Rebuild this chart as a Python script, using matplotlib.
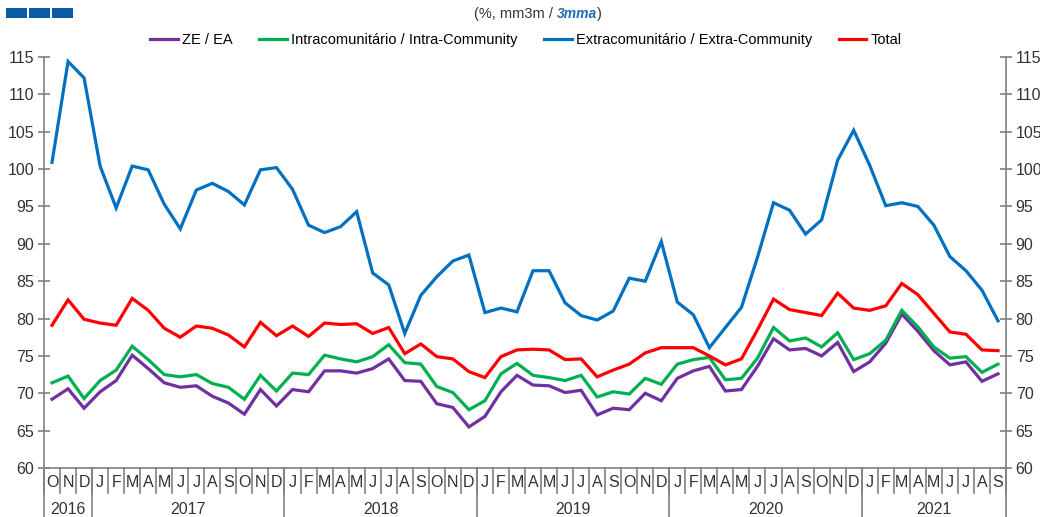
import matplotlib
matplotlib.use('Agg')
import matplotlib.pyplot as plt
from matplotlib.patches import Rectangle
from matplotlib.offsetbox import TextArea, HPacker, AnchoredOffsetbox

plt.rcParams['font.family'] = ['Liberation Sans', 'DejaVu Sans']

# Oct 2016 .. Sep 2021, 3-month moving averages
months = ['O', 'N', 'D'] + ['J', 'F', 'M', 'A', 'M', 'J', 'J', 'A', 'S', 'O', 'N', 'D'] * 4 + \
         ['J', 'F', 'M', 'A', 'M', 'J', 'J', 'A', 'S']
years = ['2016', '2017', '2018', '2019', '2020', '2021']
year_counts = [3, 12, 12, 12, 12, 9]

ze_ea = [69.2, 70.6, 68.0, 70.2, 71.7, 75.1, 73.3, 71.4, 70.8, 71.0, 69.6, 68.7,
         67.2, 70.5, 68.3, 70.5, 70.2, 73.0, 73.0, 72.7, 73.3, 74.6, 71.7, 71.6,
         68.6, 68.1, 65.5, 66.9, 70.2, 72.4, 71.1, 71.0, 70.1, 70.4, 67.1, 68.0,
         67.8, 70.0, 69.0, 72.0, 73.0, 73.6, 70.3, 70.5, 73.6, 77.3, 75.8, 76.0,
         75.0, 76.8, 72.9, 74.2, 76.7, 80.6, 78.3, 75.7, 73.8, 74.2, 71.6, 72.6]
intra = [71.4, 72.3, 69.3, 71.7, 73.1, 76.3, 74.5, 72.5, 72.2, 72.5, 71.3, 70.8,
         69.2, 72.4, 70.3, 72.7, 72.5, 75.1, 74.6, 74.2, 74.9, 76.5, 74.1, 73.9,
         70.9, 70.1, 67.8, 69.0, 72.6, 74.0, 72.4, 72.1, 71.7, 72.4, 69.5, 70.2,
         69.9, 72.0, 71.2, 73.9, 74.5, 74.8, 71.8, 72.0, 74.7, 78.8, 77.0, 77.4,
         76.2, 78.1, 74.5, 75.3, 77.1, 81.1, 78.9, 76.2, 74.7, 74.9, 72.8, 73.9]
extra = [100.9, 114.4, 112.2, 100.4, 94.8, 100.4, 99.9, 95.3, 92.0, 97.2, 98.1, 97.0,
         95.2, 99.9, 100.2, 97.3, 92.5, 91.5, 92.3, 94.3, 86.1, 84.5, 78.0, 83.1,
         85.6, 87.7, 88.5, 80.8, 81.4, 80.9, 86.4, 86.4, 82.1, 80.4, 79.8, 81.0,
         85.4, 85.0, 90.3, 82.2, 80.5, 76.1, 78.8, 81.5, 88.2, 95.5, 94.5, 91.3,
         93.2, 101.2, 105.2, 100.5, 95.1, 95.5, 95.0, 92.5, 88.3, 86.4, 83.8, 79.7]
total = [79.1, 82.5, 79.9, 79.4, 79.1, 82.7, 81.1, 78.7, 77.5, 79.0, 78.7, 77.8,
         76.2, 79.5, 77.7, 79.0, 77.6, 79.4, 79.2, 79.3, 78.0, 78.8, 75.3, 76.6,
         74.9, 74.6, 72.9, 72.1, 74.9, 75.8, 75.9, 75.8, 74.5, 74.6, 72.2, 73.1,
         73.9, 75.4, 76.1, 76.1, 76.1, 75.0, 73.8, 74.6, 78.5, 82.6, 81.2, 80.8,
         80.4, 83.4, 81.4, 81.1, 81.7, 84.7, 83.2, 80.7, 78.2, 77.9, 75.8, 75.7]

series = [
    ('ZE / EA', ze_ea, '#7030A0'),
    ('Intracomunitário / Intra-Community', intra, '#00B050'),
    ('Extracomunitário / Extra-Community', extra, '#0070C0'),
    ('Total', total, '#FF0000'),
]

fig = plt.figure(figsize=(10.4, 5.17), dpi=100)
ax = fig.add_axes([44 / 1040, 1 - 468 / 517, (1006 - 44) / 1040, (468 - 57) / 517])

x = list(range(len(months)))
for label, vals, color in series:
    ax.plot(x, vals, color=color, lw=2.3, label=label, solid_joinstyle='miter')

ax.set_xlim(-0.5, len(months) - 0.5)
ax.set_ylim(60, 115)
ax.set_yticks(range(60, 116, 5))

axis_col = '#808080'
ax.spines['top'].set_visible(False)
for side in ['left', 'right', 'bottom']:
    ax.spines[side].set_color(axis_col)
    ax.spines[side].set_linewidth(1.2)

ax.tick_params(axis='y', which='both', direction='inout', length=8, width=1.2,
               color=axis_col, labelsize=11.5, labelcolor='#333333',
               left=True, right=True, labelleft=True, labelright=True, pad=3)
ax.tick_params(axis='x', bottom=False, labelbottom=False)

# month letters with separators below the axis
trans = ax.get_xaxis_transform()
for i, m in enumerate(months):
    ax.text(i, -0.036, m, transform=trans, ha='center', va='center',
            fontsize=11.5, color='#333333', clip_on=False)
for i in range(len(months) + 1):
    ax.plot([i - 0.5, i - 0.5], [0, -0.062], transform=trans, color=axis_col,
            lw=1.2, clip_on=False)

# year labels and year separators
start = 0
for yr, n in zip(years, year_counts):
    ax.text(start + (n - 1) / 2, -0.1, yr, transform=trans, ha='center',
            va='center', fontsize=11.5, color='#333333', clip_on=False)
    ax.plot([start - 0.5, start - 0.5], [0, -0.2], transform=trans,
            color=axis_col, lw=1.2, clip_on=False)
    start += n
ax.plot([start - 0.5, start - 0.5], [0, -0.2], transform=trans,
        color=axis_col, lw=1.2, clip_on=False)

# legend
fig.legend(loc='center', bbox_to_anchor=(0.5 + 6 / 1040, 1 - 40 / 517), ncol=4,
           frameon=False, fontsize=10.5, handlelength=1.9, handletextpad=0.3,
           columnspacing=1.8)

# subtitle with blue italic part
parts = [TextArea('(%, mm3m / ', textprops=dict(fontsize=10.5, color='#333333')),
         TextArea('3mma', textprops=dict(fontsize=10, color='#1F6BB5',
                                          fontweight='bold', style='italic')),
         TextArea(')', textprops=dict(fontsize=10.5, color='#333333'))]
box = HPacker(children=parts, align='baseline', pad=0, sep=0)
anchored = AnchoredOffsetbox(loc='center', child=box, frameon=False,
                             bbox_to_anchor=(0.5 + 18 / 1040, 1 - 14 / 517),
                             bbox_transform=fig.transFigure, borderpad=0, pad=0)
fig.add_artist(anchored)

# three blue squares in the corner
for x0 in [6, 29, 52]:
    fig.patches.append(Rectangle((x0 / 1040, 1 - 18 / 517), 21 / 1040, 10 / 517,
                                 transform=fig.transFigure, facecolor='#0B5AA5',
                                 edgecolor='none'))

fig.savefig('out.png', dpi=100)
